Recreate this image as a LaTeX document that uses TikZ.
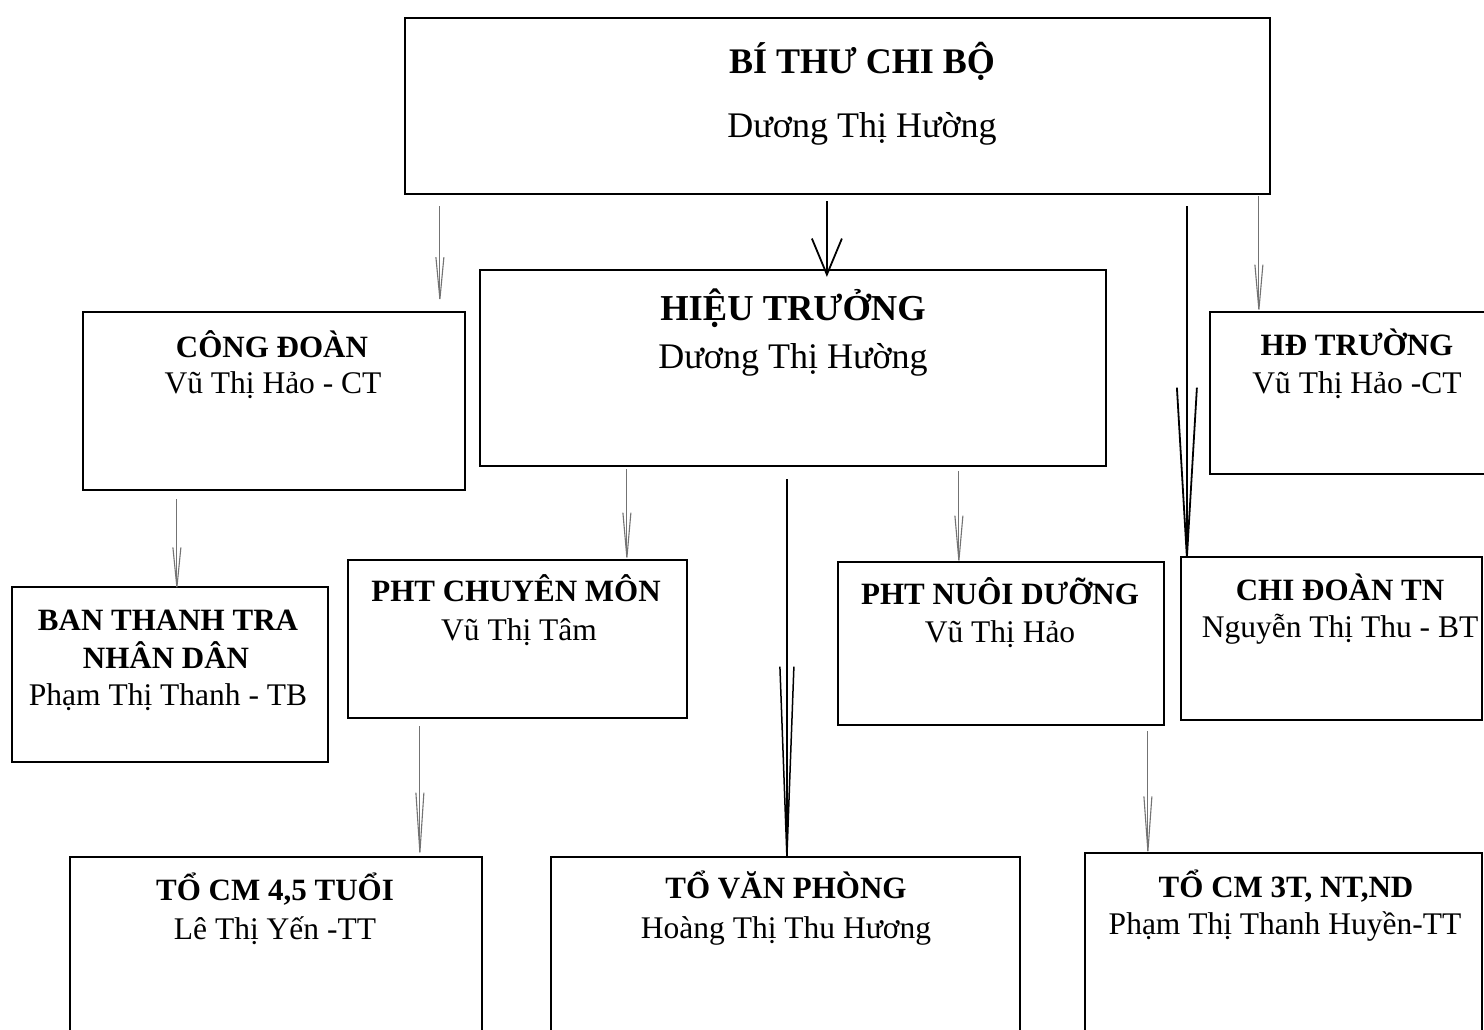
\documentclass[tikz,border=0pt]{standalone}
\usepackage{fontspec}
\setmainfont{Liberation Serif}
\usetikzlibrary{arrows.meta,calc}
\tikzset{
  box/.style={draw=black, line width=2.2pt, fill=white, inner sep=0pt, rectangle},
  ttlA/.style={font=\bfseries\fontsize{36}{40}\selectfont, anchor=base, inner sep=0pt},
  ttlB/.style={font=\bfseries\fontsize{36.5}{40}\selectfont, anchor=base, inner sep=0pt},
  nmA/.style={font=\fontsize{36}{40}\selectfont, anchor=base, inner sep=0pt},
  ttl/.style={font=\bfseries\fontsize{31}{36}\selectfont, anchor=base, inner sep=0pt},
  nm/.style={font=\fontsize{31.5}{36}\selectfont, anchor=base, inner sep=0pt},
  thin/.style={draw=black!55, line width=1.1pt, shorten >=-8pt, -{Straight Barb[length=#1, width=8pt, line width=1.1pt]}},
  thick/.style={draw=black, line width=1.8pt},
}
\begin{document}
\begin{tikzpicture}[x=1pt,y=-1pt]
\clip (0,0) rectangle (1484,1030);
\fill[white] (0,0) rectangle (1484,1030);
% boxes
\node[box, minimum width=865pt, minimum height=176pt] (bithu) at (837.5,106) {};
\node[box, minimum width=382pt, minimum height=178pt] (congdoan) at (274,401) {};
\node[box, minimum width=626pt, minimum height=196pt] (hieutruong) at (793,368) {};
\node[box, minimum width=290pt, minimum height=162pt] (hdtruong) at (1355,393) {};
\node[box, minimum width=316pt, minimum height=175pt] (thanhtra) at (170,674.5) {};
\node[box, minimum width=339pt, minimum height=158pt] (phtcm) at (517.5,639) {};
\node[box, minimum width=326pt, minimum height=163pt] (phtnd) at (1001,643.5) {};
\node[box, minimum width=301pt, minimum height=163pt] (chidoan) at (1331.5,638.5) {};
\node[box, minimum width=412pt, minimum height=193pt] (toa) at (276,953.5) {};
\node[box, minimum width=469pt, minimum height=193pt] (tovp) at (785.5,953.5) {};
\node[box, minimum width=397pt, minimum height=197pt] (tob) at (1283.5,951.5) {};
% texts
\node[ttlA] (bithu-t) at (862,74) {BÍ THƯ CHI BỘ};
\node[nmA] (bithu-n) at (862,138) {Dương Thị Hường};
\node[ttlB] (ht-t) at (793,320) {HIỆU TRƯỞNG};
\node[nmA] (ht-n) at (793,368) {Dương Thị Hường};
\node[ttl] (cd-t) at (272,357) {CÔNG ĐOÀN};
\node[nm] (cd-n) at (273,393) {Vũ Thị Hảo - CT};
\node[ttl] (hd-t) at (1357,355) {HĐ TRƯỜNG};
\node[nm] (hd-n) at (1357,393) {Vũ Thị Hảo -CT};
\node[ttl] (tt-t1) at (168,630) {BAN THANH TRA};
\node[ttl] (tt-t2) at (166,668) {NHÂN DÂN};
\node[nm] (tt-n) at (168,705) {Phạm Thị Thanh - TB};
\node[ttl] (cm-t) at (516,601) {PHT CHUYÊN MÔN};
\node[nm] (cm-n) at (519,640) {Vũ Thị Tâm};
\node[ttl] (nd-t) at (1000,604) {PHT NUÔI DƯỠNG};
\node[nm] (nd-n) at (1000,642) {Vũ Thị Hảo};
\node[ttl] (cdt-t) at (1340,600) {CHI ĐOÀN TN};
\node[nm] (cdt-n) at (1340,637) {Nguyễn Thị Thu - BT};
\node[ttl] (ta-t) at (275,900) {TỔ CM 4,5 TUỔI};
\node[nm] (ta-n) at (275,939) {Lê Thị Yến -TT};
\node[ttl] (vp-t) at (786,898) {TỔ VĂN PHÒNG};
\node[nm] (vp-n) at (786,938) {Hoàng Thị Thu Hương};
\node[ttl] (tb-t) at (1286,897) {TỔ CM 3T, NT,ND};
\node[nm] (tb-n) at (1285,934) {Phạm Thị Thanh Huyền-TT};
% connectors
\draw[thin=42pt] ($(bithu.south west)+(36,11)$) -- ($(congdoan.north west)+(358,-14)$);
\draw[thick, shorten >=-3pt, -{Straight Barb[length=36pt, width=30pt, line width=1.8pt]}] ($(bithu.south west)+(423,6)$) -- ($(hieutruong.north west)+(348,5)$);
\draw[thick, shorten >=-17pt, -{Straight Barb[length=170pt, width=20pt, line width=1.8pt]}] ($(bithu.south west)+(783,11)$) -- ($(chidoan.north west)+(7,0)$);
\draw[thin=45pt] ($(bithu.south west)+(855,1)$) -- ($(hdtruong.north west)+(50,-3)$);
\draw[thin=40pt] ($(congdoan.south west)+(95,8)$) -- ($(thanhtra.north west)+(166,-1)$);
\draw[thin=45pt] ($(hieutruong.south west)+(148,2)$) -- ($(phtcm.north west)+(280,-3)$);
\draw[thin=45pt] ($(hieutruong.south west)+(480,4)$) -- ($(phtnd.north west)+(122,-2)$);
\draw[draw=black, line width=1.5pt, shorten >=-23pt, -{Straight Barb[length=190pt, width=14pt, line width=1.5pt]}] ($(hieutruong.south west)+(308,12)$) -- ($(tovp.north west)+(237,-2)$);
\draw[thin=60pt, shorten >=-10pt] ($(phtcm.south west)+(73,7)$) -- ($(toa.north west)+(351,-5)$);
\draw[thin=55pt, shorten >=-10pt] ($(phtnd.south west)+(311,5)$) -- ($(tob.north west)+(64,-3)$);
\end{tikzpicture}
\end{document}
